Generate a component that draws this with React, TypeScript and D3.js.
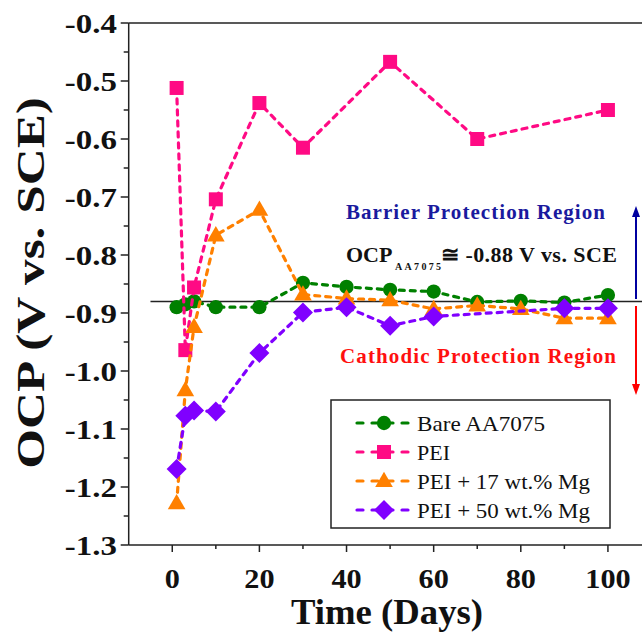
import React, { useEffect } from 'react';
import * as d3 from 'd3';

// days of measurement
const days = [1, 3, 5, 10, 20, 30, 40, 50, 60, 70, 80, 90, 100];
const peiDays = [1, 3, 5, 10, 20, 30, 50, 70, 100];
const mg50Days = [1, 3, 5, 10, 20, 30, 40, 50, 60, 90, 100];

// OCP values (V vs. SCE)
const bareAA7075 = [-0.890, -0.885, -0.880, -0.890, -0.890, -0.848, -0.855, -0.860, -0.863, -0.881, -0.879, -0.882, -0.869];
const pei = [-0.512, -0.964, -0.856, -0.704, -0.538, -0.615, -0.467, -0.600, -0.550];
const pei17Mg = [-1.228, -1.033, -0.924, -0.766, -0.722, -0.868, -0.875, -0.878, -0.893, -0.887, -0.893, -0.909, -0.909];
const pei50Mg = [-1.169, -1.077, -1.068, -1.070, -0.969, -0.899, -0.890, -0.922, -0.906, -0.892, -0.892];

const xTicks = [0, 20, 40, 60, 80, 100];
const xMinor = [10, 30, 50, 70, 90];
const yTicks = [-0.4, -0.5, -0.6, -0.7, -0.8, -0.9, -1.0, -1.1, -1.2, -1.3];
const yMinor = [-0.45, -0.55, -0.65, -0.75, -0.85, -0.95, -1.05, -1.15, -1.25];
const refOCP = -0.88;

const series = [
  { name: 'Bare AA7075', x: days, y: bareAA7075, color: '#008000', symbol: 'circle', legendW: 128 },
  { name: 'PEI', x: peiDays, y: pei, color: '#ff0a84', symbol: 'square', legendW: 33 },
  { name: 'PEI + 17 wt.% Mg', x: days, y: pei17Mg, color: '#ff8000', symbol: 'triangle', legendW: 173 },
  { name: 'PEI + 50 wt.% Mg', x: mg50Days, y: pei50Mg, color: '#8000ff', symbol: 'diamond', legendW: 173 },
];

const W = 642, H = 641;
const FONT = "'Liberation Serif', 'Times New Roman', Times, serif";
const tf = { fontFamily: FONT };

const x = d3.scaleLinear().domain([-10, 110]).range([128.7, 651.5]);
const y = d3.scaleLinear().domain([-1.3, -0.4]).range([545, 23]);

function symbolPath(kind: string) {
  if (kind === 'circle') return d3.symbol(d3.symbolCircle, 160)()!;
  if (kind === 'square') return d3.symbol(d3.symbolSquare, 196)()!;
  if (kind === 'triangle') return d3.symbol(d3.symbolTriangle, 135)()!;
  return d3.symbol(d3.symbolSquare, 200)()!;
}

function Marker({ kind, cx, cy, color }: { kind: string; cx: number; cy: number; color: string }) {
  const rot = kind === 'diamond' ? ' rotate(45)' : '';
  const dy = kind === 'triangle' ? 1 : 0;
  return <path d={symbolPath(kind)} transform={`translate(${cx},${cy + dy})${rot}`} fill={color} />;
}

export default function App() {
  useEffect(() => {
    document.body.style.margin = '0';
  }, []);

  const line = d3.line<[number, number]>().x(d => x(d[0])).y(d => y(d[1]));
  const axisColor = '#222';
  const legendRows = [423, 452, 481, 510];

  return (
    <svg width={W} height={H} style={{ display: 'block', fontFamily: FONT }}>
      <rect width={W} height={H} fill="white" />

      {/* frame */}
      <line x1={x(-10)} x2={x(110)} y1={y(-0.4)} y2={y(-0.4)} stroke={axisColor} strokeWidth={1.5} />
      <line x1={x(-10)} x2={x(110)} y1={y(-1.3)} y2={y(-1.3)} stroke={axisColor} strokeWidth={1.5} />
      <line x1={x(-10)} x2={x(-10)} y1={y(-0.4)} y2={y(-1.3)} stroke={axisColor} strokeWidth={1.5} />
      <line x1={x(110)} x2={x(110)} y1={y(-0.4)} y2={y(-1.3)} stroke={axisColor} strokeWidth={1.5} />

      {/* y ticks */}
      {yTicks.map(t => (
        <g key={'yt' + t}>
          <line x1={x(-10) - 8} x2={x(-10)} y1={y(t)} y2={y(t)} stroke={axisColor} strokeWidth={1.5} />
          <text transform={`translate(117,${y(t)}) scale(1.22,1)`} dy="0.36em" textAnchor="end"
            fontSize={27} fontWeight="bold" fill="#111" style={tf}>{t.toFixed(1)}</text>
        </g>
      ))}
      {yMinor.map(t => (
        <line key={'ym' + t} x1={x(-10) - 5} x2={x(-10)} y1={y(t)} y2={y(t)} stroke={axisColor} strokeWidth={1.5} />
      ))}

      {/* x ticks */}
      {xTicks.map(t => (
        <g key={'xt' + t}>
          <line x1={x(t)} x2={x(t)} y1={y(-1.3)} y2={y(-1.3) + 7} stroke={axisColor} strokeWidth={1.5} />
          <text transform={`translate(${x(t)},588) scale(1.08,1)`} textAnchor="middle"
            fontSize={28} fontWeight="bold" fill="#111" style={tf}>{t}</text>
        </g>
      ))}
      {xMinor.map(t => (
        <line key={'xm' + t} x1={x(t)} x2={x(t)} y1={y(-1.3)} y2={y(-1.3) + 4} stroke={axisColor} strokeWidth={1.5} />
      ))}

      {/* axis titles */}
      <text transform="translate(387,624) scale(1.02,1)" textAnchor="middle" fontSize={36} fontWeight="bold" fill="#111" style={tf}>
        Time (Days)
      </text>
      <text transform="translate(44,283) rotate(-90) scale(1.28,1)" textAnchor="middle" fontSize={40} fontWeight="bold" fill="#111" style={tf}>
        OCP (V vs. SCE)
      </text>

      {/* reference line */}
      <line x1={x(-5)} x2={W} y1={y(refOCP)} y2={y(refOCP)} stroke="#222" strokeWidth={1.5} />

      {/* series */}
      {series.map(s => {
        const pts = s.x.map((d, i) => [d, s.y[i]] as [number, number]);
        return (
          <g key={s.name}>
            <path d={line(pts)!} fill="none" stroke={s.color} strokeWidth={3.2}
              strokeDasharray="5,6" strokeLinecap="round" />
            {pts.map((p, i) => (
              <Marker key={i} kind={s.symbol} cx={x(p[0])} cy={y(p[1])} color={s.color} />
            ))}
          </g>
        );
      })}

      {/* annotations */}
      <text x={346} y={219} fontSize={21} fontWeight="bold" fill="#1a1a9e" textLength={259} lengthAdjust="spacing" style={tf}>
        Barrier Protection Region
      </text>
      <text x={346} y={262} fontSize={22} fontWeight="bold" fill="#111" style={tf}>OCP</text>
      <text x={395} y={270} fontSize={10} fontWeight="bold" fill="#111" textLength={46} lengthAdjust="spacing" style={tf}>AA7075</text>
      <text x={441} y={262} fontSize={22} fontWeight="bold" fill="#111" textLength={176} lengthAdjust="spacing" style={tf}>
        ≅ -0.88 V vs. SCE
      </text>
      <text x={340} y={363} fontSize={21} fontWeight="bold" fill="#ff1010" textLength={276} lengthAdjust="spacing" style={tf}>
        Cathodic Protection Region
      </text>

      {/* arrows */}
      <line x1={636} x2={636} y1={299} y2={214} stroke="#0000a0" strokeWidth={2} />
      <path d="M636,206 L632,217 L640,217 Z" fill="#0000a0" />
      <line x1={636} x2={636} y1={306} y2={386} stroke="#ff0000" strokeWidth={2} />
      <path d="M636,395 L632,384 L640,384 Z" fill="#ff0000" />

      {/* legend */}
      <rect x={331} y={400} width={279} height={128} fill="white" stroke="#222" strokeWidth={1.5} />
      {series.map((s, i) => (
        <g key={'lg' + s.name}>
          <line x1={357} x2={412} y1={legendRows[i]} y2={legendRows[i]} stroke={s.color} strokeWidth={3.2}
            strokeDasharray="6,9" strokeLinecap="round" />
          <Marker kind={s.symbol} cx={384} cy={legendRows[i]} color={s.color} />
          <text x={417} y={legendRows[i]} dy="0.35em" fontSize={22} fill="#111" style={tf}
            textLength={s.legendW} lengthAdjust="spacingAndGlyphs">{s.name}</text>
        </g>
      ))}
    </svg>
  );
}
